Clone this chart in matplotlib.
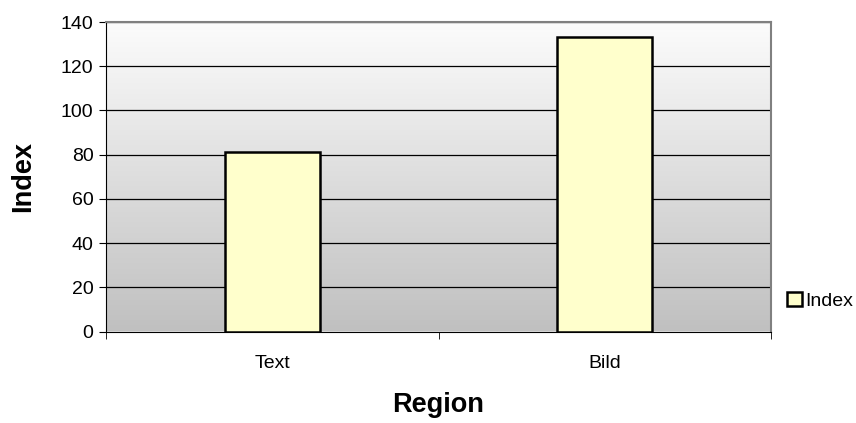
import matplotlib.pyplot as plt
import numpy as np

plt.rcParams['font.family'] = ['Liberation Sans', 'DejaVu Sans']

categories = ["Text", "Bild"]
values = [81, 133]
series_name = "Index"

fig = plt.figure(figsize=(8.56, 4.23), dpi=100)
# plot area in pixel coords: left 106, right 771, top 22, bottom 331.5
W, H = 856, 423
ax = fig.add_axes([106 / W, 1 - 331.5 / H, (771 - 106) / W, (331.5 - 22) / H])

# gradient background (white top -> grey bottom)
grad = np.linspace(1.0, 0.0, 256).reshape(-1, 1)
ax.imshow(grad, cmap=plt.matplotlib.colors.LinearSegmentedColormap.from_list(
    "bg", ["#c0c0c0", "#fcfcfc"]), aspect="auto", extent=[0, 1, 0, 1],
    transform=ax.transAxes, zorder=0, interpolation="bilinear")

x = np.arange(len(categories))
bars = ax.bar(x, values, width=0.286, color="#ffffcc", edgecolor="black",
              linewidth=1.8, zorder=3, label=series_name)

ax.set_xlim(-0.5, len(categories) - 0.5)
ax.set_ylim(0, 140)
ax.set_yticks(np.arange(0, 141, 20))
ax.yaxis.grid(True, color="black", linewidth=0.9, zorder=1)
ax.set_axisbelow(True)

ax.set_xticks(x)
ax.set_xticklabels(categories, fontsize=14)
ax.set_xticks(np.arange(-0.5, len(categories)), minor=True)
ax.tick_params(axis="x", which="major", length=0, pad=17)
ax.tick_params(axis="x", which="minor", length=5, direction="out")
ax.tick_params(axis="y", length=5, direction="out", labelsize=14, pad=4)

for side in ["top", "right"]:
    ax.spines[side].set_color("#808080")
    ax.spines[side].set_linewidth(1.5)
ax.spines["left"].set_color("black")
ax.spines["bottom"].set_color("black")

ax.set_ylabel("Index", fontsize=19.5, fontweight="bold", labelpad=18)
ax.set_xlabel("Region", fontsize=19.5, fontweight="bold", labelpad=14)

leg = ax.legend(loc="center left", bbox_to_anchor=(1.024, 0.1), frameon=False,
                fontsize=14, handlelength=0.75, handleheight=0.75,
                handletextpad=0.2, borderaxespad=0, borderpad=0)

fig.savefig("out.png", dpi=100)
